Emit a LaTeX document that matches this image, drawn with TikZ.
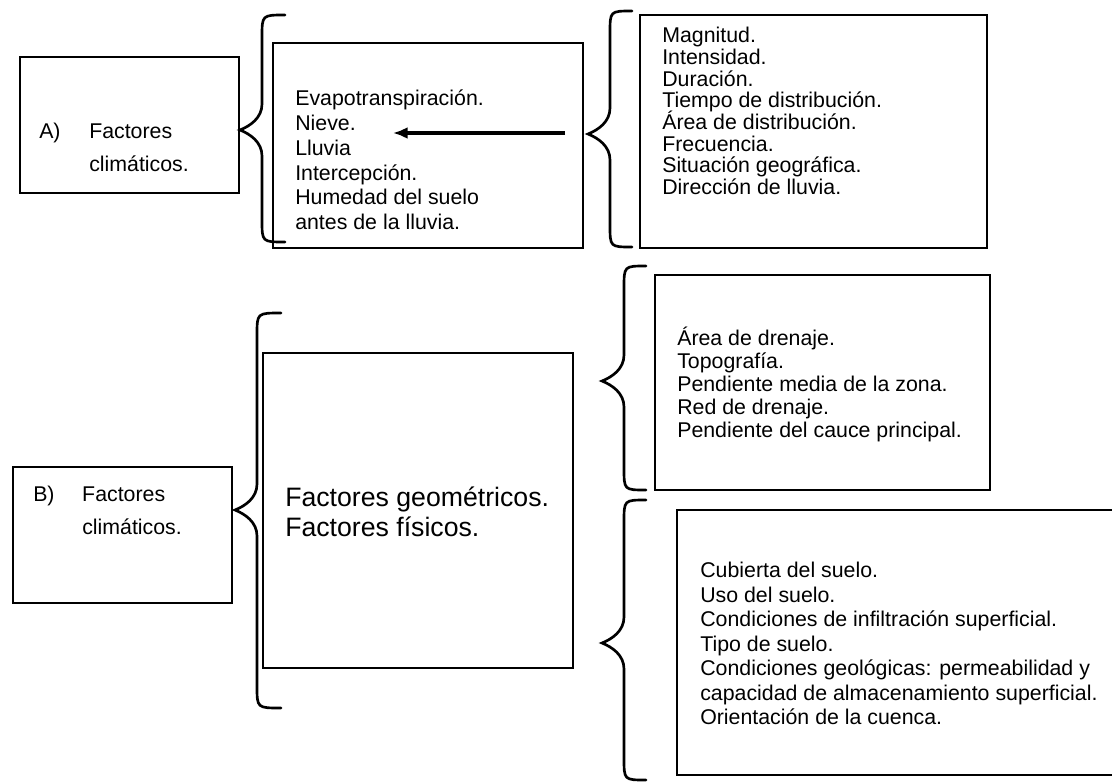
\documentclass[tikz,border=0pt]{standalone}
\usepackage{fontspec}
\setmainfont{Liberation Sans}
\usetikzlibrary{arrows.meta,fit}
\newcommand\curlybr[6]{% xe xv xt yt ym yb
  \draw[brace] (#1,#4) .. controls (#2,#4) .. (#2,#4+22) -- (#2,#5-26)
    .. controls (#2,#5-12) and (#3+10,#5-4) .. (#3,#5)
    .. controls (#3+10,#5+4) and (#2,#5+12) .. (#2,#5+26)
    -- (#2,#6-22) .. controls (#2,#6) .. (#1,#6);}
\begin{document}
\begin{tikzpicture}[x=0.75pt,y=-0.75pt,
  box/.style={draw, line width=2.2pt, inner sep=0pt, outer sep=0pt},
  brace/.style={line width=2pt, line cap=round, line join=miter},
  txt/.style={inner sep=0pt, anchor=west, align=left},
  arr/.style={line width=2.4pt, -{Latex[length=11pt,width=9pt]}}]
\useasboundingbox (0,0) rectangle (1112,782);
\clip (0,0) rectangle (1112,782);
% boxes
\node[box, fit={(20,57) (239,193)}] (boxA) {};
\node[box, fit={(273,43) (583,248)}] (boxA2) {};
\node[box, fit={(640,15) (987,248)}] (boxA3) {};
\node[box, fit={(13,467) (232,603)}] (boxB) {};
\node[box, fit={(263,353) (573,668)}] (boxB2) {};
\node[box, fit={(655,275) (990,490)}] (boxB3) {};
\node[box, fit={(677,510) (1140,775)}] (boxB4) {};
% braces
\curlybr{285}{262}{240}{15}{130}{242}
\curlybr{632}{610}{588}{11}{134}{247}
\curlybr{281}{257}{235}{313}{510}{708}
\curlybr{646}{624}{602}{266}{381}{490}
\curlybr{646}{624}{602}{500}{643}{780}
% texts
\node[txt, font={\fontsize{16}{24.75}\selectfont\lineskiplimit=-20pt}] (tA) at (39,147) {\makebox[37.5pt][l]{A)}Factores\\\hspace*{37.5pt}climáticos.};
\node[txt, font={\fontsize{16}{18.6}\selectfont\lineskiplimit=-20pt}] (tA3) at (295,160) {Evapotranspiración.\\Nieve.\\Lluvia\\Intercepción.\\Humedad del suelo\\antes de la lluvia.};
\node[txt, font={\fontsize{16}{16.3}\selectfont\lineskiplimit=-20pt}] (tA4) at (662,111) {Magnitud.\\Intensidad.\\Duración.\\Tiempo de distribución.\\Área de distribución.\\Frecuencia.\\Situación geográfica.\\Dirección de lluvia.};
\node[txt, font={\fontsize{16}{24.75}\selectfont\lineskiplimit=-20pt}] (tB) at (33,510) {\makebox[36.75pt][l]{B)}Factores\\\hspace*{36.75pt}climáticos.};
\node[txt, font={\fontsize{20}{22.5}\selectfont\lineskiplimit=-20pt}] (tB3) at (285,512) {Factores geométricos.\\Factores físicos.};
\node[txt, font={\fontsize{16}{17.25}\selectfont\lineskiplimit=-20pt}] (tB4) at (677,384) {Área de drenaje.\\Topografía.\\Pendiente media de la zona.\\Red de drenaje.\\Pendiente del cauce principal.};
\node[txt, font={\fontsize{16}{18.4}\selectfont\lineskiplimit=-20pt}] (tB5) at (700,643.5) {Cubierta del suelo.\\Uso del suelo.\\Condiciones de infiltración superficial.\\Tipo de suelo.\\Condiciones geológicas: permeabilidad y\\capacidad de almacenamiento superficial.\\Orientación de la cuenca.};
% arrow
\coordinate (arrS) at (565,133);
\coordinate (arrE) at (393,133);
\draw[arr] (arrS) -- (arrE);
\end{tikzpicture}
\end{document}
